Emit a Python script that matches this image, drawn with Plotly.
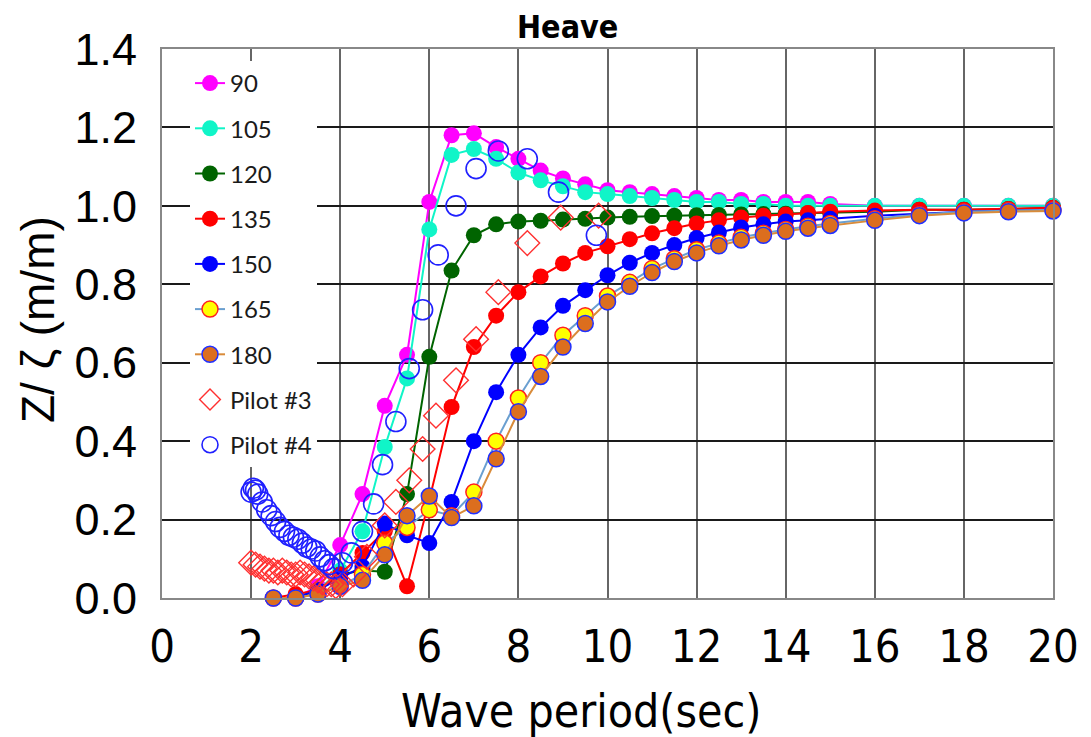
import plotly.graph_objects as go

# ---------------- data ----------------
periods = [2.5, 3, 3.5, 4, 4.5, 5, 5.5, 6, 6.5, 7, 7.5, 8, 8.5, 9, 9.5, 10, 10.5,
           11, 11.5, 12, 12.5, 13, 13.5, 14, 14.5, 15, 16, 17, 18, 19, 20]

rao_90 = [0.0, 0.0, 0.03, 0.135, 0.265, 0.49, 0.62, 1.01, 1.18, 1.185, 1.15, 1.12, 1.09,
          1.07, 1.055, 1.04, 1.035, 1.03, 1.025, 1.02, 1.015, 1.015, 1.01, 1.01, 1.01,
          1.005, 1.0, 1.0, 1.0, 1.0, 1.0]
rao_105 = [0.0, 0.0, 0.02, 0.07, 0.17, 0.385, 0.56, 0.94, 1.13, 1.145, 1.12, 1.085, 1.065,
           1.05, 1.035, 1.03, 1.025, 1.02, 1.015, 1.01, 1.01, 1.005, 1.005, 1.0, 1.0,
           1.0, 1.0, 1.0, 1.0, 1.0, 1.0]
rao_120 = [0.0, 0.0, 0.02, 0.06, 0.07, 0.067, 0.265, 0.615, 0.835, 0.925, 0.953, 0.96, 0.962,
           0.965, 0.967, 0.97, 0.972, 0.974, 0.975, 0.976, 0.977, 0.978, 0.979, 0.98, 0.981,
           0.982, 0.985, 0.99, 0.99, 0.992, 0.995]
rao_135 = [0.0, 0.01, 0.02, 0.06, 0.115, 0.17, 0.03, 0.25, 0.487, 0.64, 0.72, 0.78, 0.82,
           0.853, 0.88, 0.897, 0.915, 0.93, 0.943, 0.955, 0.963, 0.97, 0.975, 0.978, 0.982,
           0.985, 0.988, 0.99, 0.99, 0.992, 0.995]
rao_150 = [0.0, 0.0, 0.02, 0.05, 0.08, 0.19, 0.16, 0.14, 0.245, 0.40, 0.525, 0.62, 0.69,
           0.745, 0.785, 0.823, 0.855, 0.88, 0.90, 0.918, 0.932, 0.945, 0.953, 0.96, 0.963,
           0.967, 0.975, 0.98, 0.985, 0.988, 0.99]
rao_165 = [0.0, 0.0, 0.01, 0.03, 0.06, 0.14, 0.18, 0.225, 0.21, 0.27, 0.40, 0.51, 0.60,
           0.67, 0.72, 0.77, 0.805, 0.84, 0.865, 0.888, 0.905, 0.92, 0.93, 0.94, 0.948,
           0.955, 0.967, 0.978, 0.985, 0.988, 0.99]
rao_180 = [0.0, 0.0, 0.01, 0.03, 0.045, 0.11, 0.21, 0.26, 0.205, 0.235, 0.355, 0.475, 0.565,
           0.64, 0.70, 0.755, 0.795, 0.83, 0.858, 0.88, 0.898, 0.913, 0.925, 0.935, 0.943,
           0.95, 0.963, 0.975, 0.982, 0.985, 0.987]

pilot3_t = [2.0, 2.1, 2.2, 2.3, 2.4, 2.5, 2.6, 2.7, 2.8, 2.9, 3.0, 3.1, 3.2, 3.3, 3.4,
            3.5, 3.6, 3.7, 3.8, 3.9, 4.05, 4.3, 4.6, 5.0, 5.25, 5.55, 5.85, 6.15, 6.6,
            7.05, 7.55, 8.2, 8.95, 9.8]
pilot3_z = [0.09, 0.085, 0.08, 0.075, 0.07, 0.07, 0.065, 0.07, 0.065, 0.06, 0.06, 0.065,
            0.06, 0.055, 0.05, 0.045, 0.04, 0.035, 0.035, 0.03, 0.035, 0.06, 0.105, 0.185,
            0.245, 0.30, 0.38, 0.465, 0.555, 0.66, 0.78, 0.905, 0.97, 0.975]

pilot4_t = [2.0, 2.05, 2.1, 2.15, 2.25, 2.35, 2.45, 2.55, 2.65, 2.75, 2.85, 2.95, 3.05,
            3.15, 3.25, 3.35, 3.45, 3.55, 3.65, 3.75, 3.85, 4.05, 4.25, 4.5, 4.75, 4.95,
            5.25, 5.55, 5.85, 6.2, 6.6, 7.05, 7.55, 8.2, 8.9, 9.75]
pilot4_z = [0.27, 0.28, 0.275, 0.265, 0.245, 0.225, 0.21, 0.195, 0.18, 0.17, 0.16, 0.155,
            0.15, 0.14, 0.13, 0.125, 0.12, 0.105, 0.095, 0.085, 0.075, 0.09, 0.115, 0.17,
            0.24, 0.34, 0.45, 0.585, 0.735, 0.875, 1.0, 1.095, 1.14, 1.12, 1.035, 0.925]

x_ticks = [0, 2, 4, 6, 8, 10, 12, 14, 16, 18, 20]
y_ticks = [0.0, 0.2, 0.4, 0.6, 0.8, 1.0, 1.2, 1.4]

# ---------------- figure ----------------
fig = go.Figure()

series = [
    ("90", rao_90, "#FF00FF", "#FF00FF", "#FF00FF", 0),
    ("105", rao_105, "#10F5C8", "#10F5C8", "#10F5C8", 0),
    ("120", rao_120, "#006400", "#006400", "#006400", 0),
    ("135", rao_135, "#FF0000", "#FF0000", "#FF0000", 0),
    ("150", rao_150, "#0000FF", "#0000FF", "#0000FF", 0),
    ("165", rao_165, "#6A9FD0", "#FFFF00", "#FF2020", 1.5),
    ("180", rao_180, "#D98B3A", "#DC6E1E", "#2030FF", 1.5),
]
for i, (name, vals, lcol, fcol, ocol, ow) in enumerate(series):
    fig.add_trace(go.Scatter(
        x=periods, y=vals, name=name, mode="lines+markers",
        legendgroup=f"g{i}", cliponaxis=False,
        line=dict(color=lcol, width=2),
        marker=dict(symbol="circle", size=16, color=fcol,
                    line=dict(color=ocol, width=ow)),
    ))

fig.add_trace(go.Scatter(
    x=pilot3_t, y=pilot3_z, name="Pilot #3", mode="markers", legendgroup="g7",
    cliponaxis=False,
    marker=dict(symbol="diamond-open", size=19, color="#FF3030",
                line=dict(color="#FF3030", width=1.4)),
))
fig.add_trace(go.Scatter(
    x=pilot4_t, y=pilot4_z, name="Pilot #4", mode="markers", legendgroup="g8",
    cliponaxis=False,
    marker=dict(symbol="circle-open", size=20, color="#2020FF",
                line=dict(color="#2020FF", width=1.6)),
))

L, R, T, B = 162, 1053, 49, 598
W, H = 1091, 737

fig.update_layout(
    width=W, height=H,
    margin=dict(l=L, r=W - R, t=T, b=H - B, pad=0),
    paper_bgcolor="white", plot_bgcolor="white",
    showlegend=True,
    legend=dict(
        x=(190 - L) / (R - L), y=(B - 61) / (B - T),
        xanchor="left", yanchor="top",
        bgcolor="white", borderwidth=0,
        font=dict(family="Lato, Liberation Sans, sans-serif", size=24, color="#1a1a1a"),
        itemwidth=30, tracegroupgap=11,
    ),
    xaxis=dict(
        range=[0, 20], tickvals=x_ticks, ticktext=[str(v) for v in x_ticks],
        showgrid=True, gridcolor="#666", gridwidth=1.5,
        zeroline=False, showline=True, linecolor="#888", linewidth=2, mirror=True,
        ticks="", ticklabelstandoff=8,
        tickfont=dict(family="Liberation Sans Narrow, DejaVu Sans Condensed, sans-serif",
                      size=45, color="black"),
    ),
    yaxis=dict(
        range=[0, 1.4], tickvals=y_ticks, ticktext=[f"{v:.1f}" for v in y_ticks],
        showgrid=True, gridcolor="#1a1a1a", gridwidth=1.5,
        zeroline=False, showline=True, linecolor="#888", linewidth=2, mirror=True,
        ticks="", ticklabelstandoff=14,
        tickfont=dict(family="Liberation Sans, Arial, sans-serif", size=45, color="black"),
    ),
    annotations=[
        dict(text="<b>Heave</b>", xref="paper", yref="paper",
             x=(567 - L) / (R - L), y=(B - 27) / (B - T),
             xanchor="center", yanchor="middle", showarrow=False,
             font=dict(family="Liberation Sans Narrow, DejaVu Sans Condensed, sans-serif",
                       size=32, color="black")),
        dict(text="Wave period(sec)", xref="paper", yref="paper",
             x=(581 - L) / (R - L), y=(B - 711) / (B - T),
             xanchor="center", yanchor="middle", showarrow=False,
             font=dict(family="Liberation Sans Narrow, DejaVu Sans Condensed, sans-serif",
                       size=46, color="black")),
        dict(text="Z/ ζ (m/m)", xref="paper", yref="paper",
             x=(38 - L) / (R - L), y=(B - 320) / (B - T),
             xanchor="center", yanchor="middle", showarrow=False, textangle=-90,
             font=dict(family="Liberation Sans, Arial, sans-serif", size=46, color="black")),
    ],
)

fig.write_html("out.html")
